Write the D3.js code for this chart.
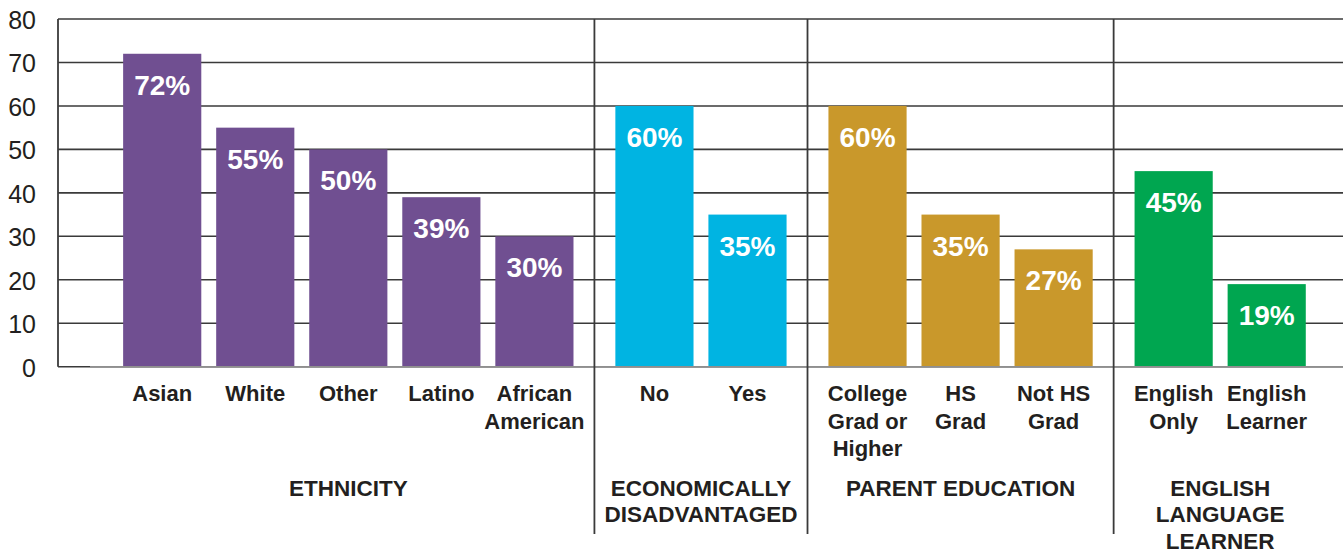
<!DOCTYPE html>
<html>
<head>
<meta charset="utf-8">
<script src="https://cdn.jsdelivr.net/npm/d3@7"></script>
<style>
  html, body { margin: 0; padding: 0; background: #fff; }
  svg { display: block; font-family: "Liberation Sans", Arial, Helvetica, sans-serif; }
</style>
</head>
<body>
<svg id="chart" width="1343" height="552"></svg>
<script>
// Groups, categories and values of the chart
const groups = ["ETHNICITY", "ECONOMICALLY\nDISADVANTAGED", "PARENT EDUCATION", "ENGLISH\nLANGUAGE\nLEARNER"];
const categories = ["Asian", "White", "Other", "Latino", "African\nAmerican",
                    "No", "Yes",
                    "College\nGrad or\nHigher", "HS\nGrad", "Not HS\nGrad",
                    "English\nOnly", "English\nLearner"];
const categoryGroup = [0, 0, 0, 0, 0, 1, 1, 2, 2, 2, 3, 3];
const values = [72, 55, 50, 39, 30, 60, 35, 60, 35, 27, 45, 19];
const yTicks = [0, 10, 20, 30, 40, 50, 60, 70, 80];

// Styling
const groupColors = ["#704f91", "#00b4e2", "#c9982b", "#00a650"];
const gridColor = "#3a3a3a";
const textColor = "#231f20";

const plotLeft = 58, plotRight = 1343, plotTop = 19, plotBottom = 366.7;

const svg = d3.select("#chart");

// Slot layout: one slot per bar, an extra gap between groups
const GROUP_GAP = 0.29, LEAD = 1.12, TRAIL = 0.82;
const slot = categories.map((c, i) => i + categoryGroup[i] * GROUP_GAP);
const x = d3.scaleLinear()
  .domain([-LEAD, slot[slot.length - 1] + TRAIL])
  .range([plotLeft, plotRight]);
const barW = (x(1) - x(0)) * 0.84;

const y = d3.scaleLinear().domain([0, 80]).range([plotBottom, plotTop]);

// Horizontal gridlines
svg.append("g")
  .selectAll("line")
  .data(yTicks)
  .join("line")
  .attr("x1", plotLeft).attr("x2", plotRight)
  .attr("y1", d => y(d)).attr("y2", d => y(d))
  .attr("stroke", gridColor)
  .attr("stroke-width", 1.6);

// Y axis (labels only, plus the vertical line)
const yAxis = d3.axisLeft(y).tickValues(yTicks).tickSize(0).tickPadding(22);
const gy = svg.append("g").attr("transform", `translate(${plotLeft},0)`).call(yAxis);
gy.select(".domain").remove();
gy.selectAll("text")
  .attr("font-size", 25)
  .attr("font-family", "\"Liberation Sans\", Arial, sans-serif")
  .attr("fill", textColor)
  .attr("dy", "0.38em");
svg.append("line")
  .attr("x1", plotLeft).attr("x2", plotLeft)
  .attr("y1", y(80)).attr("y2", y(0))
  .attr("stroke", gridColor).attr("stroke-width", 1.8);

// Bars
svg.append("g")
  .selectAll("rect")
  .data(values)
  .join("rect")
  .attr("x", (d, i) => x(slot[i]) - barW / 2)
  .attr("width", barW)
  .attr("y", d => y(d))
  .attr("height", d => y(0) - y(d))
  .attr("fill", (d, i) => groupColors[categoryGroup[i]]);

// Baseline (light grey axis line across the bars)
svg.append("line")
  .attr("x1", x(-LEAD) + 32).attr("x2", plotRight)
  .attr("y1", y(0)).attr("y2", y(0))
  .attr("stroke", "#8f8f8f").attr("stroke-width", 1.4);

// Value labels inside the bars
svg.append("g")
  .selectAll("text")
  .data(values)
  .join("text")
  .attr("x", (d, i) => x(slot[i]))
  .attr("y", d => y(d) + 41)
  .attr("text-anchor", "middle")
  .attr("font-size", 28)
  .attr("font-weight", "bold")
  .attr("fill", "#fff")
  .text(d => d + "%");

// Group separators
const separators = d3.range(1, groups.length).map(g => {
  const last = d3.max(slot.filter((s, i) => categoryGroup[i] === g - 1));
  const first = d3.min(slot.filter((s, i) => categoryGroup[i] === g));
  return (last + first) / 2;
});
svg.append("g")
  .selectAll("line")
  .data(separators)
  .join("line")
  .attr("x1", d => x(d)).attr("x2", d => x(d))
  .attr("y1", y(80)).attr("y2", 534)
  .attr("stroke", gridColor).attr("stroke-width", 1.8);

// Multi-line text helper
function multiline(sel, lineHeight) {
  sel.each(function(d) {
    const t = d3.select(this);
    d.label.split("\n").forEach((line, k) => {
      t.append("tspan")
        .attr("x", d.x)
        .attr("dy", k === 0 ? 0 : lineHeight)
        .text(line);
    });
  });
}

// Category labels
svg.append("g")
  .selectAll("text")
  .data(categories.map((c, i) => ({ label: c, x: x(slot[i]) })))
  .join("text")
  .attr("y", 401)
  .attr("text-anchor", "middle")
  .attr("font-size", 22)
  .attr("font-weight", "bold")
  .attr("fill", textColor)
  .call(multiline, 27.5);

// Group labels, centred under each group's bars
const groupData = groups.map((g, k) => ({
  label: g,
  x: x(d3.mean(slot.filter((s, i) => categoryGroup[i] === k)))
}));
svg.append("g")
  .selectAll("text")
  .data(groupData)
  .join("text")
  .attr("y", 495.5)
  .attr("text-anchor", "middle")
  .attr("font-size", 22.5)
  .attr("font-weight", "bold")
  .attr("fill", textColor)
  .call(multiline, 26.5);
</script>
</body>
</html>
